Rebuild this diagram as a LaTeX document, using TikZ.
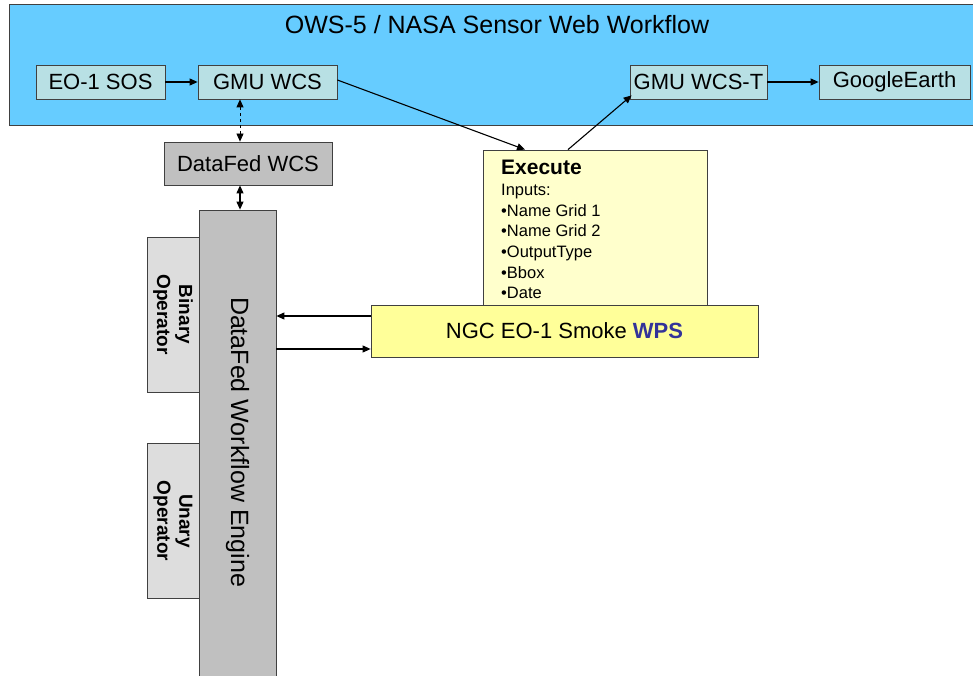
\documentclass[tikz,border=0pt]{standalone}
\usepackage{fontspec}
\setmainfont{Liberation Sans}
\usetikzlibrary{arrows.meta}
\definecolor{banner}{RGB}{102,204,255}
\definecolor{teal}{RGB}{184,224,228}
\definecolor{midgray}{RGB}{192,192,192}
\definecolor{lightgray}{RGB}{221,221,221}
\definecolor{paleyellow}{RGB}{255,255,204}
\definecolor{yellow}{RGB}{255,255,153}
\definecolor{wpsblue}{RGB}{51,51,153}
\tikzset{
  >={Triangle[length=8pt,width=7pt]},
  box/.style={draw=black!75,line width=0.8pt,fill=teal,minimum height=34,inner sep=0pt,
    font=\fontsize{22}{26}\selectfont},
  graybox/.style={draw=black!75,line width=0.8pt,fill=midgray,inner sep=0pt},
  opbox/.style={draw=black!75,line width=0.8pt,fill=lightgray,minimum width=52,minimum height=155,inner sep=0pt},
  link/.style={->,line width=1.1pt},
}
\begin{document}
\begin{tikzpicture}[x=1pt,y=-1pt]
    \useasboundingbox (0,0) rectangle (973,676);
    % banner
    \node[draw=black!75,line width=0.8pt,fill=banner,minimum width=980,minimum height=121,inner sep=0pt]
      (ows) at (499,64.5) {};
    \node[font=\fontsize{25}{30}\selectfont] (title) at (497,25) {OWS-5 / NASA Sensor Web Workflow};
    \node[box,minimum width=129] (sos) at (100.5,82) {EO-1 SOS};
    \node[box,minimum width=139] (gmuwcs) at (267.5,82) {GMU WCS};
    \node[box,minimum width=137] (wcst) at (698.5,82) {GMU WCS-T};
    \node[box,minimum width=151] (ge) at (894.5,82) {GoogleEarth};
    % datafed side
    \node[graybox,minimum width=168,minimum height=43,font=\fontsize{22}{26}\selectfont]
      (dfwcs) at (248,163.5) {DataFed WCS};
    \node[opbox] (binop) at (173,314.5) {};
    \node[opbox] (unop) at (173,521) {};
    \node[rotate=-90,align=center,font=\bfseries\fontsize{19}{22}\selectfont] at (binop.center) {Binary\\Operator};
    \node[rotate=-90,align=center,font=\bfseries\fontsize{19}{22}\selectfont] at (unop.center) {Unary\\Operator};
    \node[graybox,minimum width=77,minimum height=470] (engine) at (237.5,445) {};
    \node[rotate=-90,font=\fontsize{25}{30}\selectfont] at (237.5,442) {DataFed Workflow Engine};
    % wps
    \node[draw=black!75,line width=0.8pt,fill=paleyellow,minimum width=224,minimum height=160,inner sep=0pt]
      (exec) at (595,230) {};
    \node[anchor=north west,align=left,inner sep=0pt,font=\fontsize{16.5}{20.7}\selectfont]
      (inputs) at (501,160) {{\bfseries\fontsize{21}{22}\selectfont Execute}\\Inputs:\\•Name Grid 1\\•Name Grid 2\\•OutputType\\•Bbox\\•Date};
    \node[draw=black!75,line width=0.8pt,fill=yellow,minimum width=387,minimum height=52,inner sep=0pt,
      font=\fontsize{22}{26}\selectfont] (ngc) at (564.5,331) {NGC EO-1 Smoke \textcolor{wpsblue}{\bfseries WPS}};
    % connectors
    \draw[link] (sos) -- (gmuwcs);
    \draw[link] (wcst) -- (ge);
    \draw[<->,dashed,line width=0.8pt] (dfwcs.north -| 240,0) -- (gmuwcs.south -| 240,0);
    \draw[<->,line width=1.1pt] (dfwcs.south -| 240,0) -- (engine.north -| 240,0);
    \coordinate (in) at ([xshift=-70]exec.north);
    \coordinate (out) at ([xshift=-27]exec.north);
    \draw[link] ([yshift=2]gmuwcs.east) -- (in);
    \draw[link] (out) -- ([xshift=2,yshift=4]wcst.south west);
    \coordinate (ret) at ([yshift=15]ngc.west);
    \coordinate (call) at ([yshift=-18]ngc.west);
    \draw[link] (ret) -- (ret -| engine.east);
    \draw[link] (call -| engine.east) -- (call);
\end{tikzpicture}
\end{document}
